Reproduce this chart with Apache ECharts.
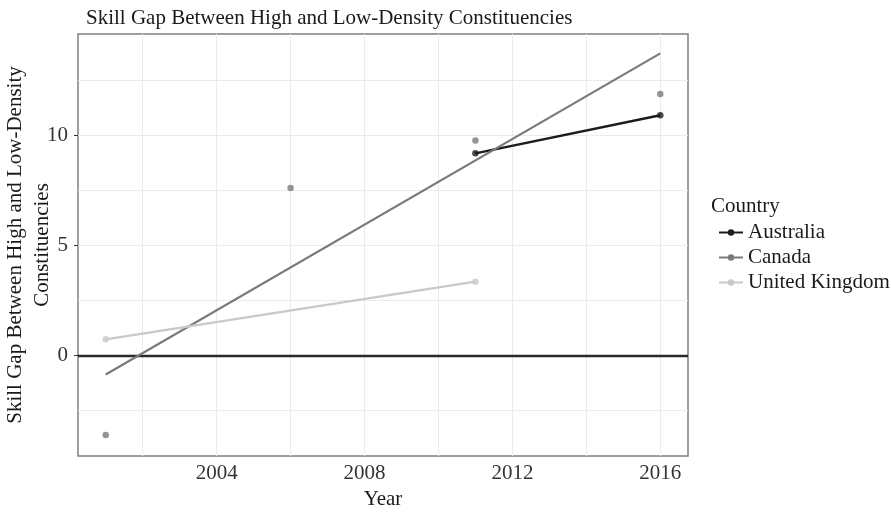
<!DOCTYPE html>
<html>
<head>
<meta charset="utf-8">
<script src="https://cdn.jsdelivr.net/npm/echarts@6/dist/echarts.min.js"></script>
<style>
  html, body { margin: 0; padding: 0; background: #fff; }
  #chart { width: 891px; height: 514px; }
</style>
</head>
<body>
<div id="chart"></div>
<script>
// Observed skill gap per country and year
const countries = ['Australia', 'Canada', 'United Kingdom'];
const colors = ['#1c1c1c', '#7a7a7a', '#c9c9c9'];

const australiaYears = [2011, 2016];
const australiaGap = [9.18, 10.91];
const canadaYears = [2001, 2006, 2011, 2016];
const canadaGap = [-3.62, 7.6, 9.76, 11.88];
const ukYears = [2001, 2011];
const ukGap = [0.73, 3.35];

// Linear trend endpoints per country
const australiaTrend = [9.18, 10.91];
const canadaTrend = [-0.87, 13.72];
const ukTrend = [0.73, 3.35];

// Axis breaks
const xTicks = [2004, 2008, 2012, 2016];
const xMinor = [2002, 2006, 2010, 2014];
const yTicks = [0, 5, 10];
const yMinor = [-2.5, 2.5, 7.5, 12.5];
const xRange = [2000.25, 2016.75];
const yRange = [-4.57, 14.6];

const pairs = (xs, ys) => xs.map((x, i) => [x, ys[i]]);
const ends = (xs, ys) => [[xs[0], ys[0]], [xs[xs.length - 1], ys[1]]];

const serif = '"Liberation Serif", "DejaVu Serif", serif';
const fs = 21;

const gridLineStyle = { color: '#ebebeb', width: 1, type: 'solid' };
const gridMarks = []
  .concat(xMinor.map(v => ({ xAxis: v })))
  .concat(xTicks.map(v => ({ xAxis: v })))
  .concat(yMinor.map(v => ({ yAxis: v })))
  .concat(yTicks.filter(v => v !== 0).map(v => ({ yAxis: v })));

const trendSeries = [
  { name: countries[0], data: ends(australiaYears, australiaTrend), color: colors[0], width: 2.4 },
  { name: countries[1], data: ends(canadaYears, canadaTrend), color: colors[1], width: 2.2 },
  { name: countries[2], data: ends(ukYears, ukTrend), color: colors[2], width: 2.2 }
].map(s => ({
  type: 'line',
  name: s.name,
  data: s.data,
  symbol: 'circle',
  symbolSize: 6,
  showSymbol: false,
  lineStyle: { color: s.color, width: s.width },
  itemStyle: { color: s.color },
  zlevel: 1,
  z: 3
}));

const pointSeries = [
  { name: countries[0], data: pairs(australiaYears, australiaGap), color: colors[0] },
  { name: countries[1], data: pairs(canadaYears, canadaGap), color: colors[1] },
  { name: countries[2], data: pairs(ukYears, ukGap), color: colors[2] }
].map(s => ({
  type: 'scatter',
  name: s.name,
  data: s.data,
  symbol: 'circle',
  symbolSize: 6.5,
  itemStyle: { color: s.color },
  zlevel: 1,
  z: 4
}));

const chart = echarts.init(document.getElementById('chart'), null, { renderer: 'canvas' });
chart.setOption({
  animation: false,
  backgroundColor: '#fff',
  title: {
    text: 'Skill Gap Between High and Low-Density Constituencies',
    left: 81, top: 3,
    textStyle: { fontFamily: serif, fontSize: fs, fontWeight: 'normal', color: '#1a1a1a' }
  },
  grid: {
    left: 78, right: 203, top: 34, bottom: 58,
    containLabel: false, outerBoundsMode: 'none',
    show: true, borderColor: '#808080', borderWidth: 1.5, backgroundColor: 'transparent'
  },
  xAxis: {
    type: 'value', min: xRange[0], max: xRange[1],
    name: 'Year', nameLocation: 'middle', nameGap: 33, nameMoveOverlap: false,
    nameTextStyle: { fontFamily: serif, fontSize: fs, color: '#1a1a1a' },
    axisLine: { show: false },
    axisTick: { show: true, customValues: xTicks, length: 4, lineStyle: { color: '#333', width: 1 } },
    axisLabel: {
      customValues: xTicks, formatter: v => String(v),
      fontFamily: serif, fontSize: fs, color: '#333', margin: 7
    },
    splitLine: { show: false }
  },
  yAxis: {
    type: 'value', min: yRange[0], max: yRange[1],
    name: 'Skill Gap Between High and Low-Density\nConstituencies',
    nameLocation: 'middle', nameGap: 22, nameRotate: 90, nameMoveOverlap: false,
    nameTextStyle: { fontFamily: serif, fontSize: fs, color: '#1a1a1a', lineHeight: 27 },
    axisLine: { show: false },
    axisTick: { show: true, customValues: yTicks, length: 4, lineStyle: { color: '#333', width: 1 } },
    axisLabel: {
      customValues: yTicks, formatter: v => String(v),
      fontFamily: serif, fontSize: fs, color: '#333', margin: 10
    },
    splitLine: { show: false }
  },
  legend: {
    data: countries,
    orient: 'vertical',
    left: 713, top: 217,
    itemWidth: 24, itemHeight: 8, itemGap: 4,
    textStyle: { fontFamily: serif, fontSize: fs, color: '#1a1a1a' },
    selectedMode: false
  },
  graphic: [{
    type: 'text', left: 711, top: 196,
    style: { text: 'Country', font: fs + 'px ' + serif, fill: '#1a1a1a' }
  }],
  series: [
    {
      type: 'line', name: 'grid', data: [], silent: true, z: 1,
      markLine: {
        silent: true, symbol: 'none', label: { show: false },
        lineStyle: gridLineStyle, data: gridMarks
      }
    },
    {
      type: 'line', name: 'zero', data: [], silent: true, zlevel: 1, z: 2,
      markLine: {
        silent: true, symbol: 'none', label: { show: false },
        lineStyle: { color: '#2a2a2a', width: 2.4, type: 'solid' },
        data: [{ yAxis: 0 }]
      }
    }
  ].concat(trendSeries, pointSeries)
});
</script>
</body>
</html>
